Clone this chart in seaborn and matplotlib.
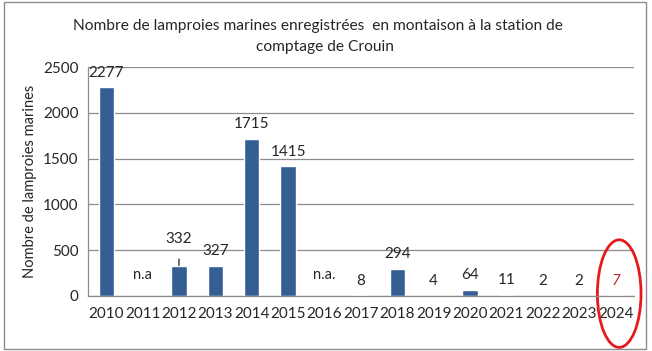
import matplotlib
matplotlib.use("Agg")
import matplotlib.pyplot as plt
import matplotlib.transforms as mtransforms
from matplotlib.patches import Ellipse, Rectangle
import seaborn as sns
import pandas as pd
import numpy as np

# Data
years = ["2010", "2011", "2012", "2013", "2014", "2015", "2016", "2017",
         "2018", "2019", "2020", "2021", "2022", "2023", "2024"]
counts = [2277, np.nan, 332, 327, 1715, 1415, np.nan, 8,
          294, 4, 64, 11, 2, 2, 7]
labels = ["2277", "n.a", "332", "327", "1715", "1415", "n.a.", "8",
          "294", "4", "64", "11", "2", "2", "7"]

df = pd.DataFrame({"annee": years, "nombre": counts})

sns.set_style("white")
plt.rcParams["font.family"] = ["Lato", "DejaVu Sans"]

fig = plt.figure(figsize=(6.52, 3.51), dpi=100)
ax = fig.add_axes([0.135, 0.157, 0.837, 0.652])

sns.barplot(x="annee", y="nombre", data=df, color="#355E95",
            width=0.42, saturation=1, ax=ax)

ax.set_xlim(-0.5, 14.5)
ax.set_ylim(0, 2500)
ax.set_yticks(range(0, 2501, 500))
ax.yaxis.grid(True, color="#8c8c8c", linewidth=0.9)
ax.set_axisbelow(True)
for s in ["top", "right"]:
    ax.spines[s].set_visible(False)
for s in ["left", "bottom"]:
    ax.spines[s].set_color("#8c8c8c")
    ax.spines[s].set_linewidth(0.9)

ax.tick_params(axis="x", which="major", length=0, labelsize=11, pad=8)
ax.set_xticks(np.arange(-0.5, 15, 1), minor=True)
ax.tick_params(axis="x", which="minor", length=5, color="#8c8c8c", direction="out")
ax.tick_params(axis="y", length=5, color="#8c8c8c", labelsize=11, pad=2)
ax.set_xlabel("")
ax.set_ylabel("Nombre de lamproies marines", fontsize=10.5, labelpad=4)

# value labels
for i, (v, lab) in enumerate(zip(counts, labels)):
    if np.isnan(v):
        ax.text(i, 225, lab, ha="center", va="center", fontsize=10.5)
    elif lab == "332":
        ax.annotate(lab, xy=(i, v), xytext=(i, v + 290), ha="center",
                    va="center", fontsize=11,
                    arrowprops=dict(arrowstyle="-", color="black", lw=0.8,
                                    shrinkA=7, shrinkB=0))
    elif lab == "7":
        ax.text(i, v + 160, lab, ha="center", va="center", fontsize=11,
                color="#c0272d", style="italic")
    else:
        ax.text(i, v + 160, lab, ha="center", va="center", fontsize=11)

fig.text(0.488, 0.926, "Nombre de lamproies marines enregistrées  en montaison à la station de",
         ha="center", va="center", fontsize=11.2)
fig.text(0.498, 0.866, "comptage de Crouin", ha="center", va="center", fontsize=11.2)

# red circle around 2024
trans = mtransforms.blended_transform_factory(ax.transData, ax.transAxes)
ax.add_patch(Ellipse((14.1, 0.01), 1.2, 0.47, transform=trans,
                     fill=False, edgecolor="#e41a1c", linewidth=2, clip_on=False))

# frame around chart
fig.patches.append(Rectangle((0.006, 0.006), 0.985, 0.988, transform=fig.transFigure,
                             fill=False, edgecolor="#8c8c8c", linewidth=1))

fig.savefig("out.png", dpi=100)
